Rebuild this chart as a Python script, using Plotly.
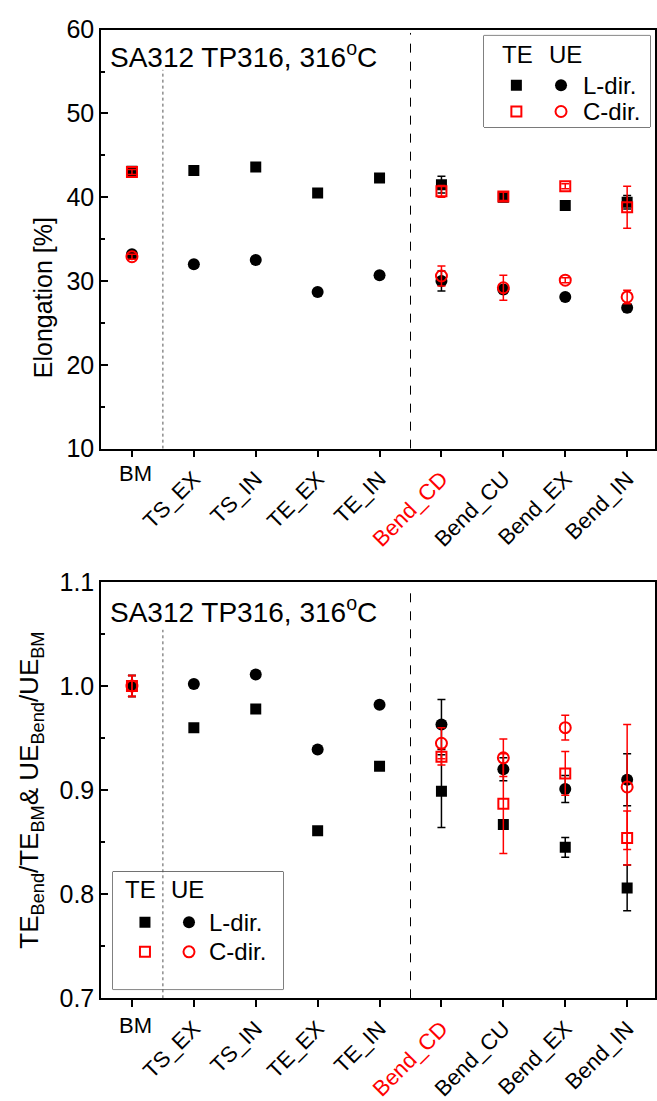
import plotly.graph_objects as go

# ---------------- data ----------------
categories = ["BM", "TS_EX", "TS_IN", "TE_EX", "TE_IN", "Bend_CD", "Bend_CU", "Bend_EX", "Bend_IN"]
xpos = list(range(1, len(categories) + 1))

# Elongation [%]
te_L = [43.1, 43.2, 43.6, 40.5, 42.3, 41.5, 40.0, 39.0, 39.4]
te_L_err = [0.3, 0, 0, 0, 0, 1.0, 0.5, 0.3, 0.8]
ue_L = [33.2, 32.0, 32.5, 28.7, 30.7, 30.0, 29.0, 28.1, 26.8]
ue_L_err = [0.3, 0, 0, 0, 0, 1.2, 0.5, 0.3, 0.5]
te_C = [43.0, None, None, None, None, 40.7, 40.1, 41.3, 38.8]
te_C_err = [0.3, 0, 0, 0, 0, 0.7, 0.5, 0.3, 2.5]
ue_C = [32.9, None, None, None, None, 30.6, 29.2, 30.1, 28.1]
ue_C_err = [0.3, 0, 0, 0, 0, 1.2, 1.5, 0.3, 0.8]

# Normalised ratios
te_L_r = [1.0, 0.960, 0.978, 0.861, 0.923, 0.899, 0.867, 0.845, 0.806]
te_L_r_err = [0.01, 0, 0, 0, 0, 0.035, 0.004, 0.0095, 0.022]
ue_L_r = [1.0, 1.002, 1.011, 0.939, 0.982, 0.963, 0.920, 0.901, 0.910]
ue_L_r_err = [0.01, 0, 0, 0, 0, 0.024, 0.011, 0.013, 0.025]
te_C_r = [1.0, None, None, None, None, 0.932, 0.887, 0.916, 0.854]
te_C_r_err = [0.01, 0, 0, 0, 0, 0.008, 0.048, 0.021, 0.026]
ue_C_r = [1.0, None, None, None, None, 0.945, 0.931, 0.960, 0.903]
ue_C_r_err = [0.01, 0, 0, 0, 0, 0.015, 0.018, 0.012, 0.06]

title_text = "SA312 TP316, 316<sup>o</sup>C"

# ---------------- layout constants ----------------
W, H = 657, 1101
FONT = "Arial, Liberation Sans, sans-serif"
RED = "#FF0000"
xr = [0.5, 9.45]
x_dom = [101 / W, 655 / W]
top_px = (16, 446)
bot_px = (582.7, 1010)
top_dom = [1 - top_px[1] / H, 1 - top_px[0] / H]
bot_dom = [1 - bot_px[1] / H, 1 - bot_px[0] / H]


def px(x):
    return x / W


def py(y):
    return 1 - y / H


fig = go.Figure()


def add_series(xa, ya, te_l, te_l_e, ue_l, ue_l_e, te_c, te_c_e, ue_c, ue_c_e):
    common = dict(mode="markers", xaxis=xa, yaxis=ya, showlegend=False, hoverinfo="skip")
    eb = lambda arr, col: dict(type="data", array=arr, visible=True, color=col, thickness=1.5, width=4)
    fig.add_trace(go.Scatter(x=xpos, y=te_l, error_y=eb(te_l_e, "black"),
                             marker=dict(symbol="square", size=11, color="black"), **common))
    fig.add_trace(go.Scatter(x=xpos, y=ue_l, error_y=eb(ue_l_e, "black"),
                             marker=dict(symbol="circle", size=12, color="black"), **common))
    fig.add_trace(go.Scatter(x=xpos, y=te_c, error_y=eb(te_c_e, RED),
                             marker=dict(symbol="square-open", size=10, color=RED, line=dict(width=2, color=RED)),
                             **common))
    fig.add_trace(go.Scatter(x=xpos, y=ue_c, error_y=eb(ue_c_e, RED),
                             marker=dict(symbol="circle-open", size=11, color=RED, line=dict(width=2, color=RED)),
                             **common))


add_series("x", "y", te_L, te_L_err, ue_L, ue_L_err, te_C, te_C_err, ue_C, ue_C_err)
add_series("x2", "y2", te_L_r, te_L_r_err, ue_L_r, ue_L_r_err, te_C_r, te_C_r_err, ue_C_r, ue_C_r_err)

ticktext = [""] + [
    ("<span style='color:#FF0000'>%s</span>" % c) if c == "Bend_CD" else c for c in categories[1:]
]

XT = 22  # x tick font size
xcommon = dict(range=xr, tickmode="array", tickvals=xpos, ticktext=ticktext, tickangle=-45,
               ticks="outside", ticklen=7, tickwidth=1.5, tickcolor="black",
               showline=True, linecolor="black", linewidth=1.5, mirror=True,
               showgrid=False, zeroline=False, domain=x_dom,
               tickfont=dict(family=FONT, size=XT, color="black"))
ycommon = dict(ticks="inside", ticklen=7, tickwidth=1.5, tickcolor="black",
               showline=True, linecolor="black", linewidth=1.5, mirror=True,
               showgrid=False, zeroline=False,
               tickfont=dict(family=FONT, size=25, color="black"))

fig.update_layout(
    width=W, height=H, margin=dict(l=0, r=0, t=0, b=0),
    paper_bgcolor="white", plot_bgcolor="white",
    font=dict(family=FONT, color="black"),
    xaxis=dict(anchor="y", **xcommon),
    yaxis=dict(anchor="x", domain=top_dom, range=[10, 60], tickvals=[10, 20, 30, 40, 50, 60],
               minor=dict(ticks="inside", ticklen=4, tickwidth=1.5, tickcolor="black", dtick=5,
                          showgrid=False),
               **ycommon),
    xaxis2=dict(anchor="y2", **xcommon),
    yaxis2=dict(anchor="x2", domain=bot_dom, range=[0.7, 1.1], tickvals=[0.7, 0.8, 0.9, 1.0, 1.1],
                ticktext=["0.7", "0.8", "0.9", "1.0", "1.1"],
                minor=dict(ticks="inside", ticklen=4, tickwidth=1.5, tickcolor="black", dtick=0.05,
                           showgrid=False),
                title=dict(text="TE<sub>Bend</sub>/TE<sub>BM</sub>& UE<sub>Bend</sub>/UE<sub>BM</sub>",
                           font=dict(family=FONT, size=26, color="black"), standoff=13),
                automargin=False,
                **ycommon),
    xaxis3=dict(anchor="y2", overlaying="x2", side="top", range=xr, tickmode="array", tickvals=xpos,
                showticklabels=False, ticks="inside", ticklen=7, tickwidth=1.5, tickcolor="black",
                showline=False, showgrid=False, zeroline=False, domain=x_dom),
    # legend panels
    xaxis5=dict(domain=[px(484), px(650)], range=[0, 1], visible=False, anchor="y5"),
    yaxis5=dict(domain=[py(116), py(22)], range=[0, 1], visible=False, anchor="x5"),
    xaxis6=dict(domain=[px(113), px(283)], range=[0, 1], visible=False, anchor="y6"),
    yaxis6=dict(domain=[py(1001), py(880)], range=[0, 1], visible=False, anchor="x6"),
)

# vertical separators
for xa, ya, ytop_dot, ytop_dash, ybot in [("x", "y", 55.2, 59.6, 10), ("x2", "y2", 1.054, 1.096, 0.7)]:
    fig.add_shape(type="line", xref=xa, yref=ya, x0=1.5, x1=1.5, y0=ybot, y1=ytop_dot,
                  line=dict(color="#555555", width=1, dash="dot"))
    fig.add_shape(type="line", xref=xa, yref=ya, x0=5.5, x1=5.5, y0=ybot, y1=ytop_dash,
                  line=dict(color="black", width=1, dash="dash"))

# BM label (horizontal)
for xa, ylab in [("x", 457), ("x2", 1023)]:
    fig.add_annotation(x=1.05, xref=xa, y=py(ylab), yref="paper", text="BM", showarrow=False,
                       xanchor="center", yanchor="top", font=dict(family=FONT, size=XT, color="black"))

# Plot titles
for ytxt in [42, 612]:
    fig.add_annotation(x=px(108), y=py(ytxt), xref="paper", yref="paper", text=title_text,
                       showarrow=False, xanchor="left", yanchor="middle",
                       font=dict(family=FONT, size=28, color="black"))

# Y title (top panel)
fig.add_annotation(x=px(27), y=py(207), xref="paper", yref="paper", text="Elongation [%]",
                   textangle=-90, showarrow=False, font=dict(family=FONT, size=25, color="black"))

# Custom legends: (axes, box px, TE x, UE x, square x, circle x, label x, header y, row ys)
legends = [
    ("x5", "y5", (484, 22, 650, 116), 0.096, 0.38, 0.195, 0.464, 0.585, 0.79, (0.457, 0.17)),
    ("x6", "y6", (113, 880, 283, 1001), 0.059, 0.33, 0.188, 0.447, 0.55, 0.85, (0.57, 0.32)),
]
for xa, ya, box, te_x, ue_x, sq_x, ci_x, lab_x, head_y, rows in legends:
    fig.add_shape(type="rect", xref="paper", yref="paper", x0=px(box[0]), x1=px(box[2]),
                  y0=py(box[3]), y1=py(box[1]), line=dict(color="black", width=1), fillcolor="white",
                  layer="below")
    for sx, sy, mk in [
        (sq_x, rows[0], dict(symbol="square", size=11, color="black")),
        (ci_x, rows[0], dict(symbol="circle", size=12, color="black")),
        (sq_x, rows[1], dict(symbol="square-open", size=10, color=RED, line=dict(width=2, color=RED))),
        (ci_x, rows[1], dict(symbol="circle-open", size=11, color=RED, line=dict(width=2, color=RED))),
    ]:
        fig.add_trace(go.Scatter(x=[sx], y=[sy], xaxis=xa, yaxis=ya, mode="markers", marker=mk,
                                 showlegend=False, hoverinfo="skip"))
    for txt, xx, yy in [("TE", te_x, head_y), ("UE", ue_x, head_y), ("L-dir.", lab_x, rows[0]),
                        ("C-dir.", lab_x, rows[1])]:
        fig.add_annotation(x=xx, y=yy, xref=xa + " domain", yref=ya + " domain", text=txt,
                           showarrow=False, xanchor="left", yanchor="middle",
                           font=dict(family=FONT, size=24, color="black"))

fig.write_html("out.html")
